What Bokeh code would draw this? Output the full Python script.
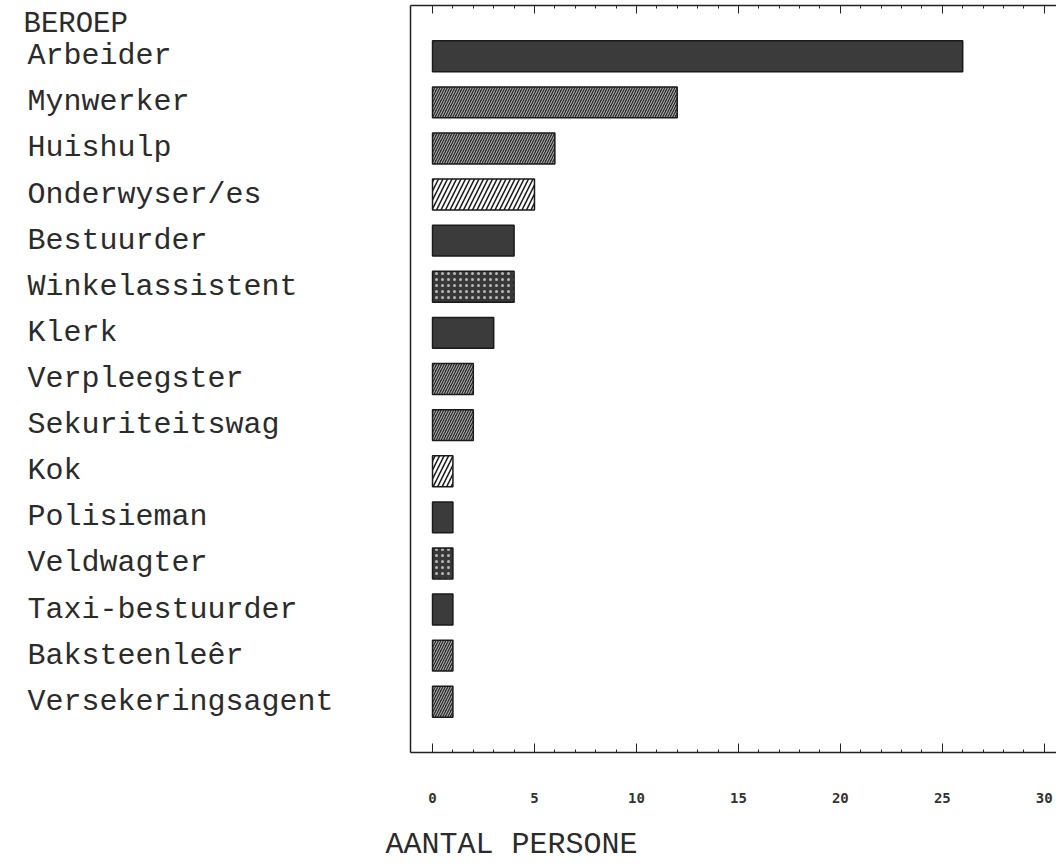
from bokeh.plotting import figure
from bokeh.layouts import row, column
from bokeh.models import (ColumnDataSource, FactorRange, Range1d, LinearAxis,
                          CategoricalAxis, FixedTicker, Label)
from bokeh.core.properties import value
from bokeh.embed import file_html
from bokeh.resources import INLINE

# ---------------- data ----------------
heading = "BEROEP"
occupations = ["Arbeider", "Mynwerker", "Huishulp", "Onderwyser/es", "Bestuurder",
               "Winkelassistent", "Klerk", "Verpleegster", "Sekuriteitswag", "Kok",
               "Polisieman", "Veldwagter", "Taxi-bestuurder", "Baksteenleêr",
               "Versekeringsagent"]
persons = [26, 12, 6, 5, 4, 4, 3, 2, 2, 1, 1, 1, 1, 1, 1]
major_ticks = [0, 5, 10, 15, 20, 25, 30]
minor_ticks = list(range(0, 31))
x_title = "AANTAL PERSONE"

# ---------------- styles (per bar) ----------------
SOLID = ("#3b3b3b", " ", "#ffffff", 4, 1)
DENSE = ("#2c2c2c", "/", "#cfcfcf", 5, 0.9)
MOTTLE = ("#383838", "dot", "#b8b8b8", 6, 1)
DIAG = ("#ffffff", "/", "#1e1e1e", 9, 1.6)
styles = [SOLID, DENSE, DENSE, DIAG, SOLID, MOTTLE, SOLID, DENSE, DENSE, DIAG,
          SOLID, MOTTLE, SOLID, DENSE, DENSE]

src = ColumnDataSource(dict(
    occupation=occupations,
    persons=persons,
    fill=[s[0] for s in styles],
    hatch=[s[1] for s in styles],
    hcolor=[s[2] for s in styles],
    hscale=[s[3] for s in styles],
    hweight=[s[4] for s in styles],
))

TEXT = "#2b2b2b"
FONT = "Liberation Mono"
H = 822
TOP = 5
BOTTOM = 70
AX = "#222222"

yr = FactorRange(factors=occupations[::-1], range_padding=0.6,
                 range_padding_units="absolute")

# ---------------- left: category labels ----------------
lf = figure(width=385, height=H, x_range=Range1d(0, 1), y_range=yr,
            x_axis_location=None, y_axis_location=None,
            output_backend="svg", toolbar_location=None,
            min_border_left=0, min_border_right=0,
            min_border_top=TOP, min_border_bottom=BOTTOM)
lf.outline_line_color = None
lf.xgrid.visible = False
lf.ygrid.visible = False
lf.text(x=0, y="occupation", text="occupation", source=src, x_offset=27,
        text_font=value(FONT), text_font_size=value("30px"),
        text_align="left", text_baseline="middle", text_color=TEXT)
lf.add_layout(Label(x=23, y=728, x_units="screen", y_units="screen", text=heading,
                    text_font=FONT, text_font_size="29px", text_align="left",
                    text_baseline="middle", text_color=TEXT))

# ---------------- right: bars ----------------
p = figure(width=671, height=H, y_range=yr, x_range=Range1d(-1.08, 30.6),
           y_axis_location=None,
           output_backend="svg", toolbar_location=None,
           min_border_left=25, min_border_right=0,
           min_border_top=TOP, min_border_bottom=BOTTOM)
p.outline_line_color = None
p.xgrid.visible = False
p.ygrid.visible = False

p.hbar(y="occupation", left=0, right="persons", height=0.67, source=src,
       fill_color="fill", hatch_pattern="hatch", hatch_color="hcolor",
       hatch_scale="hscale", hatch_weight="hweight",
       line_color="#1a1a1a", line_width=1.5)

xa = p.xaxis[0]
xa.ticker = FixedTicker(ticks=major_ticks, minor_ticks=minor_ticks)
xa.major_tick_in = 9
xa.major_tick_out = 0
xa.minor_tick_in = 3
xa.minor_tick_out = 0
xa.axis_line_width = 1.5
xa.axis_line_color = AX
xa.major_tick_line_color = AX
xa.minor_tick_line_color = AX
xa.major_label_standoff = 40
xa.major_label_text_font = "DejaVu Sans Mono"
xa.major_label_text_font_style = "bold"
xa.major_label_text_font_size = "14px"
xa.major_label_text_color = "#333333"

# top axis: inward ticks, no labels
top = LinearAxis(ticker=FixedTicker(ticks=major_ticks, minor_ticks=minor_ticks),
                 major_label_overrides={t: "" for t in major_ticks},
                 major_label_standoff=0, major_label_text_font_size="1px",
                 major_tick_in=8, major_tick_out=0, minor_tick_in=3, minor_tick_out=0,
                 axis_line_width=1.5, axis_line_color=AX,
                 major_tick_line_color=AX, minor_tick_line_color=AX)
p.add_layout(top, "above")

# left frame line: an axis with no ticks
left = CategoricalAxis(ticker=FixedTicker(ticks=[]),
                       major_tick_line_color=None, minor_tick_line_color=None,
                       major_label_standoff=0,
                       axis_line_width=1.5, axis_line_color=AX)
p.add_layout(left, "left")

# ---------------- bottom strip: x axis title ----------------
tf = figure(width=1056, height=44, x_range=Range1d(0, 1), y_range=Range1d(0, 1),
            x_axis_location=None, y_axis_location=None,
            output_backend="svg", toolbar_location=None,
            min_border_left=0, min_border_right=0,
            min_border_top=0, min_border_bottom=0)
tf.outline_line_color = None
tf.xgrid.visible = False
tf.ygrid.visible = False
tf.text(x=[0], y=[0.5], text=[x_title], x_offset=385,
        text_font=value(FONT), text_font_size=value("30px"),
        text_align="left", text_baseline="middle", text_color=TEXT)

layout = column(row(lf, p), tf)
open("out.html", "w").write(file_html(layout, INLINE))
